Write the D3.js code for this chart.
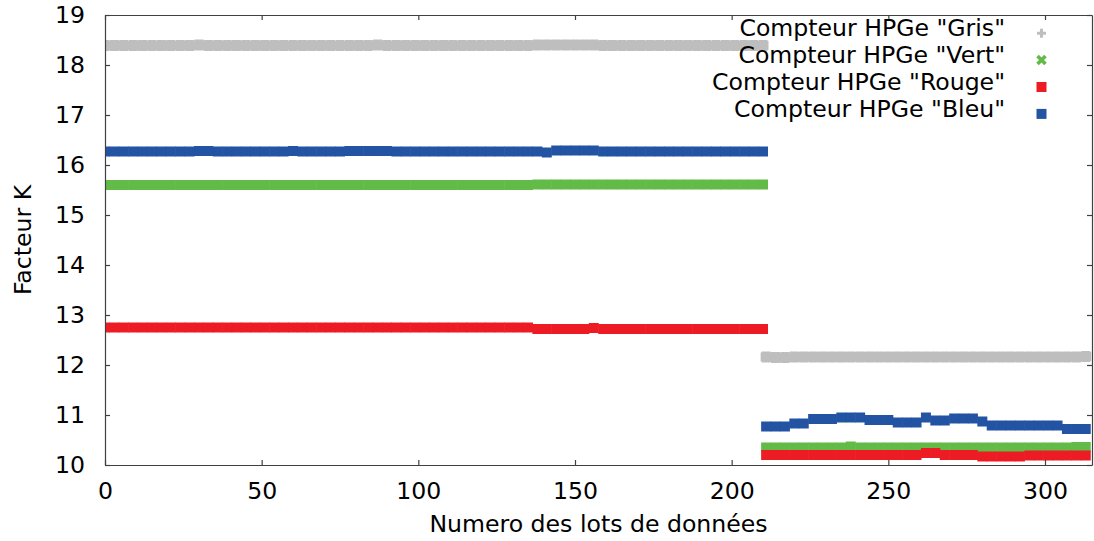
<!DOCTYPE html>
<html><head><meta charset="utf-8">
<script src="https://cdn.jsdelivr.net/npm/d3@7"></script>
<style>
body{margin:0;background:#fff}
svg{display:block}
text{font-family:"DejaVu Sans",sans-serif;fill:#000}
</style>
</head><body>
<svg id="c" width="1094" height="541"></svg>
<script>
// ---- data ----
// lot numbers: first period (lots 0..210) and second period (lots 211..313), every 3rd lot
const lotsA = d3.range(0, 211, 3);
const lotsB = d3.range(211, 315, 3);
const xTicks = [0, 50, 100, 150, 200, 250, 300];
const yTicks = [10, 11, 12, 13, 14, 15, 16, 17, 18, 19];
const seriesNames = ['Compteur HPGe "Gris"', 'Compteur HPGe "Vert"', 'Compteur HPGe "Rouge"', 'Compteur HPGe "Bleu"'];
const seriesColors = ["#bebebe", "#63bb47", "#ed1c24", "#2353a3"];
const xLabel = "Numero des lots de données";
const yLabel = "Facteur K";

const grisA = [18.39,18.39,18.39,18.39,18.39,18.39,18.39,18.39,18.39,18.39,
  18.40,
  18.39,18.39,18.39,18.39,18.39,18.39,18.39,18.39,18.39,
  18.39,18.39,18.39,18.39,18.39,18.39,18.39,18.39,18.39,
  18.40,
  18.39,18.39,18.39,18.39,18.39,18.39,18.39,18.39,
  18.39,18.39,18.39,18.39,18.39,18.39,18.39,18.39,
  18.40,18.40,18.40,18.40,18.40,18.40,18.40,
  18.39,18.39,18.39,18.39,18.39,18.39,18.39,18.39,18.39,
  18.39,18.39,18.39,18.39,18.39,18.39,18.39,18.39,18.39];
const grisB = [12.16,12.15,12.15,
  12.16,12.16,12.16,12.16,12.16,12.16,12.16,12.16,12.16,12.16,
  12.16,12.16,12.16,12.16,12.16,12.16,12.16,12.16,12.16,12.16,
  12.16,12.16,12.16,12.16,12.16,12.16,12.16,12.16,12.16,12.16,12.16,
  12.17];

const vertA = [15.60,15.60,15.60,15.60,15.60,15.60,15.60,15.60,15.60,15.60,
  15.60,15.60,15.60,15.60,15.60,15.60,15.60,15.60,15.60,15.60,
  15.60,15.60,15.60,15.60,15.60,15.60,15.60,15.60,15.60,15.60,
  15.60,15.60,15.60,15.60,15.60,15.60,15.60,15.60,15.60,15.60,
  15.60,15.60,15.60,15.60,15.60,15.60,
  15.61,15.61,15.61,15.61,15.61,15.61,15.61,15.61,15.61,15.61,
  15.61,15.61,15.61,15.61,15.61,15.61,15.61,15.61,15.61,15.61,
  15.61,15.61,15.61,15.61,15.61];
const vertB = [10.35,10.35,10.35,10.35,10.35,10.35,10.35,10.35,10.35,
  10.37,
  10.35,10.35,10.35,10.35,10.35,10.35,10.35,10.35,10.35,10.35,
  10.35,10.35,10.35,10.35,10.35,10.35,10.35,10.35,10.35,10.35,
  10.35,10.35,10.35,
  10.36,10.36];

const rougeA = [12.75,12.75,12.75,12.75,12.75,12.75,12.75,12.75,12.75,12.75,
  12.75,12.75,12.75,12.75,12.75,12.75,12.75,12.75,12.75,12.75,
  12.75,12.75,12.75,12.75,12.75,12.75,12.75,12.75,12.75,12.75,
  12.75,12.75,12.75,12.75,12.75,12.75,12.75,12.75,12.75,12.75,
  12.75,12.75,12.75,12.75,12.75,12.75,
  12.72,12.72,12.72,12.72,12.72,12.72,
  12.74,
  12.72,12.72,12.72,12.72,12.72,12.72,12.72,12.72,12.72,
  12.72,12.72,12.72,12.72,12.72,12.72,12.72,12.72,12.72];
const rougeB = [10.20,10.20,10.20,10.20,10.20,10.20,10.20,10.20,10.20,10.20,
  10.20,10.20,10.20,10.20,10.20,10.20,10.20,
  10.24,10.24,
  10.20,10.20,10.20,10.20,
  10.17,10.17,10.17,10.17,10.17,
  10.19,10.19,10.19,10.19,10.19,10.19,10.19];

const bleuA = [16.27,16.27,16.27,16.27,16.27,16.27,16.27,16.27,16.27,16.27,
  16.28,16.28,
  16.27,16.27,16.27,16.27,16.27,16.27,16.27,16.27,
  16.28,
  16.27,16.27,16.27,16.27,16.27,
  16.28,16.28,16.28,16.28,16.28,
  16.27,16.27,16.27,16.27,16.27,16.27,16.27,16.27,16.27,16.27,16.27,16.27,16.27,16.27,16.27,
  16.27,
  16.25,
  16.29,16.29,16.29,16.29,16.29,
  16.27,16.27,16.27,16.27,16.27,16.27,16.27,16.27,16.27,
  16.27,16.27,16.27,16.27,16.27,16.27,16.27,16.27,16.27];
const bleuB = [10.77,10.77,10.77,
  10.83,10.83,
  10.92,10.92,10.92,
  10.95,10.95,10.95,
  10.90,10.90,10.90,
  10.85,10.85,10.85,
  10.95,
  10.89,10.89,
  10.93,10.93,10.93,
  10.87,
  10.79,10.79,10.79,10.79,10.79,10.79,10.79,10.79,
  10.72,10.72,10.72];

// ---- layout ----
const W = 1094, H = 541;
const m = {left: 105, right: 2, top: 15, bottom: 76};
const x = d3.scaleLinear().domain([0, 315]).range([m.left, W - m.right]);
const y = d3.scaleLinear().domain([10, 19]).range([H - m.bottom, m.top]);

const svg = d3.select("#c");
const FS = 23.6;

svg.append("defs").append("clipPath").attr("id", "clip")
  .append("rect").attr("x", x(0)).attr("y", y(19))
  .attr("width", x(315) - x(0)).attr("height", y(10) - y(19));

const series = [
  {name: seriesNames[0], color: seriesColors[0], shape: "plus",   a: grisA,  b: grisB},
  {name: seriesNames[1], color: seriesColors[1], shape: "cross",  a: vertA,  b: vertB},
  {name: seriesNames[2], color: seriesColors[2], shape: "square", a: rougeA, b: rougeB},
  {name: seriesNames[3], color: seriesColors[3], shape: "square", a: bleuA,  b: bleuB}
];

// band marker shapes for data points (dense, overlapping)
const dataPlus = "M-5.5,-4.5h11v9h-11zM-4.5,-5.5h9v11h-9z";
const dataSq = "M-5,-5h10v10h-10z";

const plot = svg.append("g").attr("clip-path", "url(#clip)");
series.forEach(s => {
  const pts = lotsA.map((l, i) => [l, s.a[i]]).concat(lotsB.map((l, i) => [l, s.b[i]]));
  plot.append("g").selectAll("path").data(pts).join("path")
    .attr("transform", d => `translate(${x(d[0])},${y(d[1])})`)
    .attr("d", s.shape === "plus" ? dataPlus : dataSq)
    .attr("fill", s.color);
});

// ---- axes ----
const axCol = "#404040";
const gB = svg.append("g").attr("transform", `translate(0,${y(10)})`)
  .call(d3.axisBottom(x).tickValues(xTicks).tickSizeInner(-5).tickSizeOuter(0).tickPadding(17));
const gT = svg.append("g").attr("transform", `translate(0,${y(19)})`)
  .call(d3.axisTop(x).tickValues(xTicks).tickSizeInner(-5).tickSizeOuter(0).tickFormat(""));
const gL = svg.append("g").attr("transform", `translate(${x(0)},0)`)
  .call(d3.axisLeft(y).tickValues(yTicks).tickSizeInner(-5).tickSizeOuter(0).tickPadding(20));
const gR = svg.append("g").attr("transform", `translate(${x(315)},0)`)
  .call(d3.axisRight(y).tickValues(yTicks).tickSizeInner(-5).tickSizeOuter(0).tickFormat(""));
[gB, gT, gL, gR].forEach(g => {
  g.selectAll(".domain").attr("stroke", axCol).attr("stroke-width", 1.2);
  g.selectAll(".tick line").attr("stroke", axCol).attr("stroke-width", 1.2);
  g.selectAll("text").attr("font-size", FS).attr("font-family", '"DejaVu Sans",sans-serif').attr("fill", "#000");
});

svg.append("text").attr("x", (x(0) + x(315)) / 2).attr("y", 532)
  .attr("text-anchor", "middle").attr("font-size", FS).text(xLabel);
svg.append("text").attr("transform", `translate(31,${(y(10) + y(19)) / 2}) rotate(-90)`)
  .attr("text-anchor", "middle").attr("font-size", FS).text(yLabel);

// ---- legend ----
const legY = [36.2, 63.1, 90, 116.9];
const leg = svg.append("g");
series.forEach((s, i) => {
  leg.append("text").attr("x", 1005).attr("y", legY[i]).attr("text-anchor", "end")
    .attr("font-size", FS).text(s.name);
  const g = leg.append("g").attr("transform", `translate(1041.5,${legY[i] - 3})`);
  if (s.shape === "plus") {
    g.append("path").attr("d", "M-4.5,-1.5h9v3h-9zM-1.5,-4.5h3v9h-3z").attr("fill", s.color);
  } else if (s.shape === "cross") {
    g.append("path").attr("d", "M-4,-4L4,4M-4,4L4,-4").attr("stroke", s.color).attr("stroke-width", 3.6);
  } else {
    g.append("path").attr("d", "M-5,-5h10v10h-10z").attr("fill", s.color);
  }
});
</script>
</body></html>
